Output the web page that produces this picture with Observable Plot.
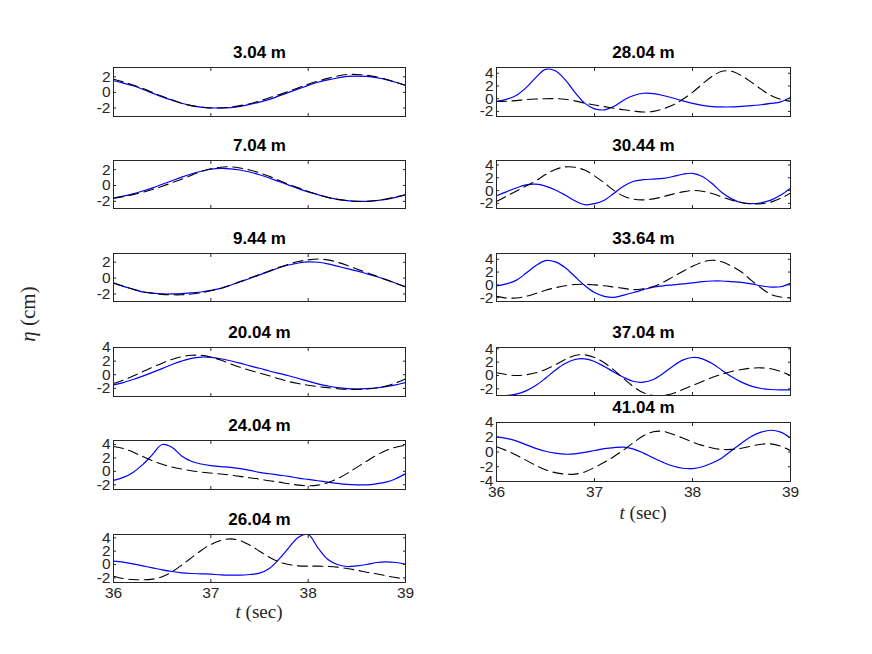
<!DOCTYPE html>
<html>
<head>
<meta charset="utf-8">
<script src="https://cdn.jsdelivr.net/npm/d3@7"></script>
<script src="https://cdn.jsdelivr.net/npm/@observablehq/plot@0.6"></script>
<style>
  body { margin: 0; background: #fff; }
  #fig { position: relative; width: 872px; height: 654px; background: #fff; overflow: hidden; font-family: "Liberation Sans", Arial, sans-serif; }
  #fig svg { position: absolute; overflow: visible; }
  .lab { position: absolute; font-family: "Liberation Serif", "DejaVu Serif", serif; font-size: 20px; color: #262626; white-space: nowrap; }
</style>
</head>
<body>
<div id="fig"></div>
<script>
// time axis (s), sampled every 0.1 s
const time = d3.range(31).map(i => +(36 + i * 0.1).toFixed(1));
const xTicks = [36, 37, 38, 39];

const titles = ["3.04 m", "7.04 m", "9.44 m", "20.04 m", "24.04 m", "26.04 m",
                "28.04 m", "30.44 m", "33.64 m", "37.04 m", "41.04 m"];

// blue solid series
const blue304 = [1.5,1.2,0.85,0.4,-0.1,-0.6,-1.0,-1.4,-1.7,-1.9,-2.0,-2.0,-1.95,-1.8,-1.55,-1.25,-0.9,-0.45,0.0,0.45,0.9,1.3,1.6,1.85,2.05,2.1,2.05,1.9,1.65,1.3,0.9];
const blue704 = [-1.6,-1.35,-1.05,-0.7,-0.3,0.15,0.6,1.05,1.45,1.8,2.05,2.15,2.1,1.95,1.7,1.35,0.95,0.5,0.05,-0.4,-0.8,-1.15,-1.5,-1.75,-1.9,-2.0,-2.0,-1.9,-1.75,-1.5,-1.2];
const blue944 = [-0.65,-1.05,-1.4,-1.75,-1.9,-2.0,-2.0,-1.95,-1.85,-1.75,-1.55,-1.3,-0.9,-0.45,-0.05,0.4,0.85,1.3,1.65,1.9,2.05,2.0,1.8,1.5,1.2,0.9,0.55,0.2,-0.2,-0.65,-1.1];
const blue2004 = [-1.5,-1.15,-0.7,-0.2,0.35,0.9,1.5,2.0,2.4,2.6,2.55,2.35,2.05,1.7,1.3,0.95,0.55,0.2,-0.15,-0.55,-0.95,-1.35,-1.65,-1.9,-2.05,-2.1,-2.05,-1.95,-1.75,-1.5,-1.15];
const blue2404 = [-1.35,-0.9,-0.15,1.0,2.5,4.0,3.6,2.3,1.5,1.1,0.85,0.7,0.6,0.4,0.15,-0.15,-0.35,-0.55,-0.75,-1.0,-1.2,-1.4,-1.6,-1.8,-1.95,-2.0,-2.0,-1.85,-1.6,-1.1,-0.35];
const blue2604 = [0.5,0.35,0.1,-0.2,-0.5,-0.8,-1.05,-1.25,-1.35,-1.4,-1.45,-1.55,-1.6,-1.6,-1.5,-1.3,-0.6,0.8,2.5,4.1,4.5,2.5,0.8,0.0,-0.3,-0.2,0.0,0.3,0.4,0.3,0.05];
const blue2804 = [-0.4,-0.1,0.5,1.7,3.3,4.6,4.4,3.0,1.0,-0.7,-1.6,-1.75,-1.2,-0.2,0.5,0.85,0.8,0.5,0.1,-0.35,-0.75,-1.05,-1.25,-1.3,-1.3,-1.2,-1.1,-0.95,-0.75,-0.5,0.2];
const blue3044 = [-0.8,-0.2,0.4,0.9,1.0,0.7,0.1,-0.7,-1.6,-2.2,-2.05,-1.5,-0.4,0.7,1.45,1.7,1.8,1.9,2.2,2.55,2.7,2.2,1.1,-0.3,-1.3,-1.9,-2.05,-1.9,-1.5,-0.7,0.4];
const blue3364 = [-0.15,0.15,0.7,1.8,3.0,3.8,3.6,2.7,1.3,-0.1,-1.2,-1.8,-1.95,-1.6,-1.2,-0.75,-0.35,-0.15,0.0,0.15,0.3,0.5,0.6,0.6,0.5,0.4,0.15,-0.15,-0.35,-0.3,0.25];
const blue3704 = [-3.0,-3.0,-2.8,-2.3,-1.5,-0.4,0.8,1.8,2.4,2.5,2.1,1.35,0.5,-0.3,-0.9,-1.0,-0.6,0.3,1.4,2.3,2.7,2.5,1.8,0.8,-0.2,-1.0,-1.6,-1.95,-2.1,-2.15,-2.15];
const blue4104 = [2.05,1.85,1.5,1.0,0.5,0.1,-0.15,-0.3,-0.25,-0.05,0.2,0.45,0.6,0.65,0.4,-0.15,-0.8,-1.4,-1.9,-2.2,-2.25,-2.0,-1.5,-0.8,0.2,1.2,2.1,2.7,2.95,2.7,1.9];

// black dashed series
const dash304 = [1.7,1.35,0.95,0.5,0.0,-0.5,-0.95,-1.4,-1.7,-1.9,-2.0,-2.0,-1.9,-1.7,-1.45,-1.1,-0.7,-0.3,0.15,0.6,1.05,1.45,1.8,2.1,2.3,2.3,2.2,2.0,1.7,1.3,0.9];
const dash704 = [-1.6,-1.4,-1.15,-0.85,-0.5,-0.1,0.35,0.8,1.3,1.75,2.1,2.3,2.35,2.2,1.95,1.6,1.15,0.65,0.15,-0.3,-0.75,-1.15,-1.5,-1.75,-1.9,-2.0,-2.0,-1.9,-1.7,-1.45,-1.15];
const dash944 = [-0.6,-1.0,-1.4,-1.7,-1.9,-2.05,-2.1,-2.1,-2.0,-1.85,-1.6,-1.3,-0.9,-0.45,0.0,0.45,0.9,1.35,1.75,2.1,2.3,2.4,2.3,2.0,1.6,1.15,0.7,0.25,-0.2,-0.65,-1.1];
const dash2004 = [-1.3,-0.8,-0.2,0.45,1.1,1.7,2.25,2.65,2.85,2.85,2.6,2.15,1.6,1.1,0.65,0.25,-0.15,-0.6,-1.0,-1.3,-1.55,-1.75,-1.9,-2.05,-2.15,-2.15,-2.1,-1.95,-1.65,-1.2,-0.6];
const dash2404 = [3.7,3.4,2.9,2.2,1.6,1.05,0.65,0.35,0.1,-0.1,-0.25,-0.4,-0.55,-0.75,-0.95,-1.15,-1.4,-1.6,-1.85,-2.05,-2.15,-2.05,-1.7,-1.1,-0.3,0.6,1.5,2.4,3.1,3.6,3.9];
const dash2604 = [-1.75,-2.1,-2.25,-2.3,-2.2,-1.85,-1.1,-0.1,1.0,2.1,3.0,3.6,3.85,3.6,2.9,2.0,1.1,0.4,0.0,-0.2,-0.25,-0.25,-0.3,-0.4,-0.6,-0.85,-1.15,-1.4,-1.7,-1.95,-2.2];
const dash2804 = [-0.45,-0.4,-0.3,-0.15,-0.05,0.0,0.0,-0.1,-0.35,-0.7,-1.0,-1.25,-1.5,-1.75,-1.95,-2.1,-2.0,-1.6,-1.0,-0.1,1.0,2.3,3.5,4.3,4.3,3.6,2.6,1.5,0.5,-0.1,-0.4];
const dash3044 = [-1.7,-0.9,-0.1,0.7,1.5,2.5,3.3,3.7,3.65,3.2,2.3,1.2,0.0,-0.9,-1.35,-1.45,-1.3,-0.95,-0.55,-0.2,0.0,-0.1,-0.45,-1.0,-1.5,-1.85,-2.05,-2.05,-1.8,-1.2,-0.4];
const dash3364 = [-1.8,-2.05,-2.05,-1.8,-1.35,-0.85,-0.45,-0.15,0.05,0.1,0.0,-0.15,-0.35,-0.55,-0.75,-0.6,-0.25,0.4,1.25,2.1,2.9,3.55,3.85,3.6,2.9,2.0,0.7,-0.5,-1.5,-1.9,-2.05];
const dash3704 = [0.4,0.15,0.0,0.1,0.4,0.9,1.6,2.4,3.0,3.1,2.7,1.9,0.8,-0.5,-1.7,-2.6,-3.0,-3.0,-2.7,-2.1,-1.5,-0.9,-0.3,0.2,0.6,0.9,1.1,1.15,1.0,0.6,0.0];
const dash4104 = [0.7,0.2,-0.4,-1.1,-1.8,-2.4,-2.8,-3.0,-3.0,-2.7,-2.1,-1.4,-0.6,0.3,1.3,2.2,2.75,2.8,2.4,1.9,1.35,0.9,0.55,0.35,0.35,0.5,0.8,1.05,1.1,0.8,0.2];

const blueSeries = [blue304, blue704, blue944, blue2004, blue2404, blue2604, blue2804, blue3044, blue3364, blue3704, blue4104];
const dashSeries = [dash304, dash704, dash944, dash2004, dash2404, dash2604, dash2804, dash3044, dash3364, dash3704, dash4104];

// y-axis domains and ticks per panel
const yDomains = [[-3.1,3.2],[-2.9,3.15],[-2.95,3.1],[-3.2,4.0],[-2.7,4.6],[-2.7,4.5],
                  [-2.8,4.9],[-2.8,4.7],[-2.6,4.9],[-3.0,4.2],[-4,4]];
const yTicks = [[-2,0,2],[-2,0,2],[-2,0,2],[-2,0,2,4],[-2,0,2,4],[-2,0,2,4],
                [-2,0,2,4],[-2,0,2,4],[-2,0,2,4],[-2,0,2,4],[-4,-2,0,2,4]];

// panel frame placement (left, top, width, height) in page pixels
const boxes = [
  [113, 67, 292, 49], [113, 160, 292, 48], [113, 253, 292, 48],
  [113, 347, 292, 49], [113, 440, 292, 49], [113, 534, 292, 48],
  [496, 67, 294, 49], [496, 160, 294, 48], [496, 253, 294, 48],
  [496, 347, 294, 48], [496, 422, 294, 59]
];
const showX = [false,false,false,false,false,true,false,false,false,false,true];

const fig = document.getElementById("fig");
const ML = 40, MR = 12, MT = 34, MB = 30;
const axisColor = "#262626";

titles.forEach((title, i) => {
  const [L, T, W, H] = boxes[i];
  const rows = time.map((t, k) => ({t, blue: blueSeries[i][k], dash: dashSeries[i][k]}));
  const marks = [
    Plot.lineY(rows, {x: "t", y: "blue", stroke: "#0000ff", strokeWidth: 1.2, curve: "catmull-rom", clip: true}),
    Plot.lineY(rows, {x: "t", y: "dash", stroke: "#000", strokeWidth: 1.1, strokeDasharray: "10,5.5", curve: "catmull-rom", clip: true}),
    Plot.frame({stroke: axisColor, strokeWidth: 1}),
    // inward ticks on all four sides
    Plot.axisY(yTicks[i], {anchor: "left", tickSize: 3, dx: 3, text: null, label: null, stroke: axisColor}),
    Plot.axisY(yTicks[i], {anchor: "right", tickSize: 3, dx: -3, text: null, label: null, stroke: axisColor}),
    Plot.axisX(xTicks, {anchor: "bottom", tickSize: 3, dy: -3, text: null, label: null, stroke: axisColor}),
    Plot.axisX(xTicks, {anchor: "top", tickSize: 3, dy: 3, text: null, label: null, stroke: axisColor}),
    // tick labels
    Plot.axisY(yTicks[i], {anchor: "left", tickSize: 0, tickPadding: 3, label: null, fontSize: 15.5, fill: axisColor, tickFormat: d => String(d)}),
    Plot.text([title], {frameAnchor: "top", dy: -10, fontSize: 17, fontWeight: "bold", fill: "#000", text: d => d, lineAnchor: "bottom"})
  ];
  if (showX[i]) {
    marks.push(Plot.axisX(xTicks, {anchor: "bottom", tickSize: 0, tickPadding: 4, label: null, fontSize: 15.5, fill: axisColor, tickFormat: d => String(d)}));
  }
  const svg = Plot.plot({
    width: W + ML + MR,
    height: H + MT + MB,
    marginLeft: ML, marginRight: MR, marginTop: MT, marginBottom: MB,
    style: {fontFamily: "'Liberation Sans', Arial, sans-serif", background: "transparent", overflow: "visible"},
    x: {domain: [36, 39], label: null},
    y: {domain: yDomains[i], label: null},
    marks
  });
  svg.style.left = (L - ML) + "px";
  svg.style.top = (T - MT) + "px";
  fig.appendChild(svg);
});

// axis labels
function addLabel(html, x, y, rotate, size) {
  const d = document.createElement("div");
  d.className = "lab";
  d.innerHTML = html;
  d.style.left = x + "px";
  d.style.top = y + "px";
  d.style.fontSize = size + "px";
  d.style.transform = "translate(-50%, -50%)" + (rotate ? " rotate(-90deg)" : "");
  fig.appendChild(d);
}
addLabel("<i>t</i>&nbsp;(sec)", 259, 612, false, 19);
addLabel("<i>t</i>&nbsp;(sec)", 643, 513, false, 19);
addLabel("<i>η</i>&nbsp;(cm)", 28, 314, true, 21);
</script>
</body>
</html>
